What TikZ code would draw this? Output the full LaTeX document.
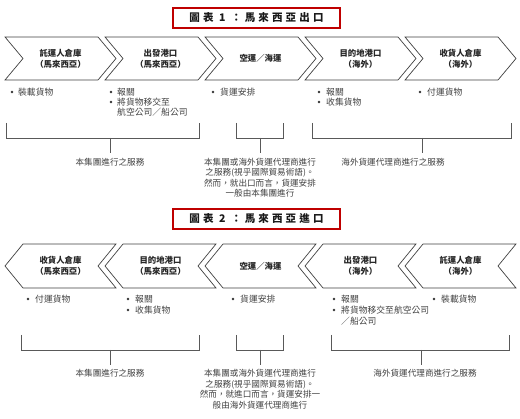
\documentclass[tikz,border=0pt]{standalone}
\usepackage{fontspec}
\setmainfont{Noto Sans CJK TC}
\newfontfamily\titlefont[LetterSpace=30]{Noto Sans CJK TC}
\begin{document}
\begin{tikzpicture}[x=1pt,y=-1pt,
  chev/.style={draw=black!75,line width=0.7pt,fill=white},
  lbl/.style={font=\fontsize{8.4}{11}\selectfont\bfseries,text=black!85,align=center,inner sep=0pt},
  bul/.style={font=\fontsize{8.8}{10}\selectfont,text=black!75,anchor=west,inner sep=0pt},
  bdot/.style={circle,fill=black!80,inner sep=0pt,minimum size=2.6pt},
  brk/.style={draw=black!65,line width=0.8pt},
  note/.style={font=\fontsize{8.6}{10.5}\selectfont,text=black!75,align=center,inner sep=0pt},
  ttl/.style={draw=red!75!black,line width=1.4pt,font=\titlefont\fontsize{10.5}{12}\selectfont\bfseries,text=black!90,minimum width=167pt,minimum height=20pt,inner sep=0pt}]
\path[use as bounding box] (0,0) rectangle (520,419);

% ===== Figure 1 =====
\node[ttl] (t1) at (256.5,18) {圖表 1 ：馬來西亞出口};

\foreach \x in {5,105,205,305,405}{
  \draw[chev] (\x,37) -- (\x+93,37) -- (\x+111,58.5) -- (\x+93,80) -- (\x,80) -- (\x+18,58.5) -- cycle;
}
\node[lbl] (a1) at (60.5,58.5) {託運人倉庫\\（馬來西亞）};
\node[lbl] (a2) at (160.5,58.5) {出發港口\\（馬來西亞）};
\node[lbl] (a3) at (260.5,58.5) {空運／海運};
\node[lbl] (a4) at (360.5,58.5) {目的地港口\\（海外）};
\node[lbl] (a5) at (460.5,58.5) {收貨人倉庫\\（海外）};

\node[bdot] (ab1) at (12,92) {};  \node[bul] (ax1) at (18,92) {裝載貨物};
\node[bdot] (ab2) at (111,92) {}; \node[bul] (ax2) at (117,92) {報關};
\node[bdot] (ab3) at (111,102) {}; \node[bul] (ax3) at (117,102) {將貨物移交至};
\node[bul] (ax4) at (117,112) {航空公司／船公司};
\node[bdot] (ab5) at (213,92) {}; \node[bul] (ax5) at (220,92) {貨運安排};
\node[bdot] (ab6) at (319,92) {}; \node[bul] (ax6) at (326,92) {報關};
\node[bdot] (ab7) at (319,102) {}; \node[bul] (ax7) at (326,102) {收集貨物};
\node[bdot] (ab8) at (420,92) {}; \node[bul] (ax8) at (427,92) {付運貨物};

\coordinate (p1) at (6,123);   \coordinate (p2) at (199,123);
\coordinate (p3) at (236,123); \coordinate (p4) at (283,123);
\coordinate (p5) at (312,123); \coordinate (p6) at (511,123);
\coordinate (s1) at (110,138); \coordinate (s2) at (260,138); \coordinate (s3) at (422,138);
\draw[brk] (p1) -- (p1 |- s1) -- (p2 |- s1) -- (p2);
\draw[brk] (p3) -- (p3 |- s2) -- (p4 |- s2) -- (p4);
\draw[brk] (p5) -- (p5 |- s3) -- (p6 |- s3) -- (p6);
\node[note,anchor=north] (n1) at (110,158) {本集團進行之服務};
\node[note,anchor=north] (n2) at (260,158) {本集團或海外貨運代理商進行\\之服務(視乎國際貿易術語)。\\然而，就出口而言，貨運安排\\一般由本集團進行};
\node[note,anchor=north] (n3) at (393,158) {海外貨運代理商進行之服務};
\draw[brk] (s1) -- (110,153);
\draw[brk] (s2) -- (260,153);
\draw[brk] (s3) -- (422,153);

% ===== Figure 2 =====
\node[ttl] (t2) at (256.5,219) {圖表 2 ：馬來西亞進口};

\foreach \x in {5,105,205,305,405}{
  \draw[chev] (\x,266) -- (\x+18,244) -- (\x+111,244) -- (\x+93,266) -- (\x+111,288) -- (\x+18,288) -- cycle;
}
\node[lbl] (b1) at (60.5,266) {收貨人倉庫\\（馬來西亞）};
\node[lbl] (b2) at (160.5,266) {目的地港口\\（馬來西亞）};
\node[lbl] (b3) at (260.5,266) {空運／海運};
\node[lbl] (b4) at (360.5,266) {出發港口\\（海外）};
\node[lbl] (b5) at (460.5,266) {託運人倉庫\\（海外）};

\node[bdot] (bb1) at (28,299) {};  \node[bul] (bx1) at (35,299) {付運貨物};
\node[bdot] (bb2) at (128,299) {}; \node[bul] (bx2) at (135,299) {報關};
\node[bdot] (bb3) at (128,310) {}; \node[bul] (bx3) at (135,310) {收集貨物};
\node[bdot] (bb4) at (233,299) {}; \node[bul] (bx4) at (240,299) {貨運安排};
\node[bdot] (bb5) at (334,299) {}; \node[bul] (bx5) at (341,299) {報關};
\node[bdot] (bb6) at (334,310) {}; \node[bul] (bx6) at (341,310) {將貨物移交至航空公司};
\node[bul] (bx7) at (341,321) {／船公司};
\node[bdot] (bb8) at (434,299) {}; \node[bul] (bx8) at (441,299) {裝載貨物};

\coordinate (q1) at (21,335);  \coordinate (q2) at (199,335);
\coordinate (q3) at (236,335); \coordinate (q4) at (283,335);
\coordinate (q5) at (331,335); \coordinate (q6) at (509,335);
\coordinate (r1) at (110,350); \coordinate (r2) at (260,350); \coordinate (r3) at (421,350);
\draw[brk] (q1) -- (q1 |- r1) -- (q2 |- r1) -- (q2);
\draw[brk] (q3) -- (q3 |- r2) -- (q4 |- r2) -- (q4);
\draw[brk] (q5) -- (q5 |- r3) -- (q6 |- r3) -- (q6);
\node[note,anchor=north] (m1) at (110,369.5) {本集團進行之服務};
\node[note,anchor=north] (m2) at (260,369.5) {本集團或海外貨運代理商進行\\之服務(視乎國際貿易術語)。\\然而，就進口而言，貨運安排一\\般由海外貨運代理商進行};
\node[note,anchor=north] (m3) at (425,369.5) {海外貨運代理商進行之服務};
\draw[brk] (r1) -- (110,365);
\draw[brk] (r2) -- (260,365);
\draw[brk] (r3) -- (421,365);
\end{tikzpicture}
\end{document}
